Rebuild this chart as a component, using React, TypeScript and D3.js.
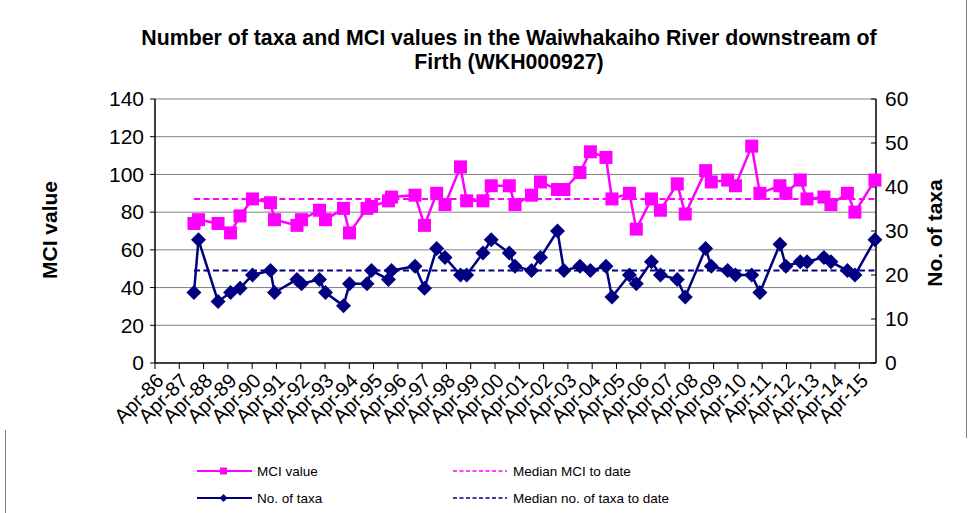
import React from "react";
import * as d3 from "d3";

// sampling dates with MCI score and taxa count
const sampleDates = [
  "1987-11-08", "1988-01-15", "1988-11-04", "1989-05-11", "1989-10-01", "1990-04-06",
  "1991-01-02", "1991-03-03", "1992-02-04", "1992-04-12", "1993-01-08", "1993-04-08",
  "1994-01-04", "1994-04-04", "1994-12-23", "1995-03-01", "1995-11-11", "1995-12-27",
  "1996-12-14", "1997-05-06", "1997-11-05", "1998-03-10", "1998-10-29", "1999-01-30",
  "1999-10-02", "2000-02-04", "2000-11-01", "2001-01-26", "2001-10-01", "2002-02-13",
  "2002-10-27", "2003-02-01", "2003-09-30", "2004-03-05", "2004-10-25", "2005-01-23",
  "2005-10-13", "2006-01-24", "2006-09-09", "2007-01-22", "2007-10-02", "2008-01-30",
  "2008-12-02", "2009-02-25", "2009-10-29", "2010-02-23", "2010-10-26", "2011-02-26",
  "2011-12-24", "2012-03-23", "2012-10-25", "2013-02-03", "2013-10-16", "2014-01-29",
  "2014-10-04", "2015-01-25", "2015-11-22",
];
const mciValues = [
  74, 76, 74, 69, 78, 87, 85, 76, 73, 76, 81, 76,
  82, 69, 82, 83, 86, 88, 89, 73, 90, 84, 104, 86,
  86, 94, 94, 84, 89, 96, 92, 92, 101, 112, 109, 87,
  90, 71, 87, 81, 95, 79, 102, 96, 97, 94, 115, 90,
  94, 90, 97, 87, 88, 84, 90, 80, 97,
];
const taxaValues = [
  16, 28, 14, 16, 17, 20, 21, 16, 19, 18, 19, 16,
  13, 18, 18, 21, 19, 21, 22, 17, 26, 24, 20, 20,
  25, 28, 25, 22, 21, 24, 30, 21, 22, 21, 22, 15,
  20, 18, 23, 20, 19, 15, 26, 22, 21, 20, 20, 16,
  27, 22, 23, 23, 24, 23, 21, 20, 28,
];
const medianMci = 87;
const medianTaxa = 21;
const leftTicks = [0, 20, 40, 60, 80, 100, 120, 140];
const rightTicks = [0, 10, 20, 30, 40, 50, 60];
const tickYears = d3.range(1986, 2016);

const PINK = "#FF00FF";
const NAVY = "#000080";
const FONT = "'Liberation Sans', Arial, sans-serif";

export default function App() {
  const W = 970, H = 513;
  const left = 155, right = 876, top = 99, bottom = 363;

  const parse = d3.timeParse("%Y-%m-%d");
  const dates = sampleDates.map((d) => parse(d) as Date);
  const x = d3.scaleTime()
    .domain([new Date(1986, 3, 1), new Date(2015, 11, 8)])
    .range([left, right]);
  const yL = d3.scaleLinear().domain([0, 140]).range([bottom, top]);
  const yR = d3.scaleLinear().domain([0, 60]).range([bottom, top]);
  const fmt = d3.timeFormat("%b-%y");
  const xTicks = tickYears.map((y) => new Date(y, 3, 1));

  const mciLine = d3.line<number>().x((_, i) => x(dates[i])).y((v) => yL(v))(mciValues) || "";
  const taxaLine = d3.line<number>().x((_, i) => x(dates[i])).y((v) => yR(v))(taxaValues) || "";

  const x0 = x(dates[0]);
  const sq = 13, dm = 7.5;

  return (
    <svg width={W} height={H} style={{ position: "absolute", left: 0, top: 0 }} fontFamily={FONT}>
      <rect x={0} y={0} width={W} height={H} fill="#fff" />
      {/* frame fragments of the original chart area */}
      <line x1={966.5} x2={966.5} y1={0} y2={438} stroke="#808080" />
      <line x1={5.5} x2={5.5} y1={430} y2={H} stroke="#808080" />

      {/* title */}
      <text x={509} y={45} textAnchor="middle" fontSize={21.3} fontWeight="bold">
        Number of taxa and MCI values in the Waiwhakaiho River downstream of
      </text>
      <text x={509} y={69} textAnchor="middle" fontSize={21.3} fontWeight="bold">
        Firth (WKH000927)
      </text>

      {/* gridlines */}
      {leftTicks.slice(1).map((t) => (
        <line key={"g" + t} x1={left} x2={right} y1={yL(t)} y2={yL(t)} stroke="#808080" strokeWidth={1} />
      ))}

      {/* axes */}
      <line x1={left} x2={left} y1={top} y2={bottom} stroke="#000" strokeWidth={1.5} />
      <line x1={right} x2={right} y1={top} y2={bottom} stroke="#000" strokeWidth={1.5} />
      <line x1={left} x2={right} y1={bottom} y2={bottom} stroke="#000" strokeWidth={1.5} />
      {leftTicks.map((t) => (
        <g key={"l" + t}>
          <line x1={left - 5} x2={left} y1={yL(t)} y2={yL(t)} stroke="#000" />
          <text x={144} y={yL(t)} dy="0.35em" textAnchor="end" fontSize={21}>{t}</text>
        </g>
      ))}
      {rightTicks.map((t) => (
        <g key={"r" + t}>
          <line x1={right - 5} x2={right} y1={yR(t)} y2={yR(t)} stroke="#000" />
          <text x={885} y={yR(t)} dy="0.35em" textAnchor="start" fontSize={21}>{t}</text>
        </g>
      ))}
      {xTicks.map((d, i) => (
        <g key={"x" + i}>
          <line x1={x(d)} x2={x(d)} y1={bottom} y2={bottom + 6} stroke="#000" />
          <text
            transform={`translate(${x(d) + 5},${bottom + 14}) rotate(-45)`}
            textAnchor="end"
            dy="0.35em"
            fontSize={20}
          >
            {fmt(d)}
          </text>
        </g>
      ))}

      {/* axis titles */}
      <text transform={`translate(57,230) rotate(-90)`} textAnchor="middle" fontSize={21} fontWeight="bold">
        MCI value
      </text>
      <text transform={`translate(942,233) rotate(-90)`} textAnchor="middle" fontSize={21} fontWeight="bold">
        No. of taxa
      </text>

      {/* medians */}
      <line x1={x0} x2={right} y1={yL(medianMci)} y2={yL(medianMci)} stroke={PINK} strokeWidth={2} strokeDasharray="6,3.5" />
      <line x1={x0} x2={right} y1={yR(medianTaxa)} y2={yR(medianTaxa)} stroke={NAVY} strokeWidth={2} strokeDasharray="6,3.5" />

      {/* MCI series */}
      <path d={mciLine} fill="none" stroke={PINK} strokeWidth={2.5} />
      {mciValues.map((v, i) => (
        <rect key={"m" + i} x={x(dates[i]) - sq / 2} y={yL(v) - sq / 2} width={sq} height={sq} fill={PINK} />
      ))}

      {/* taxa series */}
      <path d={taxaLine} fill="none" stroke={NAVY} strokeWidth={2.5} />
      {taxaValues.map((v, i) => {
        const cx = x(dates[i]), cy = yR(v);
        return (
          <path key={"t" + i} d={`M${cx},${cy - dm}L${cx + dm},${cy}L${cx},${cy + dm}L${cx - dm},${cy}Z`} fill={NAVY} />
        );
      })}

      {/* legend */}
      <g fontSize={13.5}>
        <line x1={197} x2={252} y1={471} y2={471} stroke={PINK} strokeWidth={2} />
        <rect x={220} y={467.5} width={7} height={7} fill={PINK} />
        <text x={257} y={471} dy="0.35em">MCI value</text>
        <line x1={197} x2={252} y1={498} y2={498} stroke={NAVY} strokeWidth={2} />
        <path d="M223.5,494L227.5,498L223.5,502L219.5,498Z" fill={NAVY} />
        <text x={257} y={498} dy="0.35em">No. of taxa</text>

        <line x1={453} x2={507} y1={471} y2={471} stroke={PINK} strokeWidth={1.5} strokeDasharray="4,2.5" />
        <text x={513} y={471} dy="0.35em">Median MCI to date</text>
        <line x1={453} x2={507} y1={498} y2={498} stroke={NAVY} strokeWidth={1.5} strokeDasharray="4,2.5" />
        <text x={513} y={498} dy="0.35em">Median no. of taxa to date</text>
      </g>
    </svg>
  );
}
